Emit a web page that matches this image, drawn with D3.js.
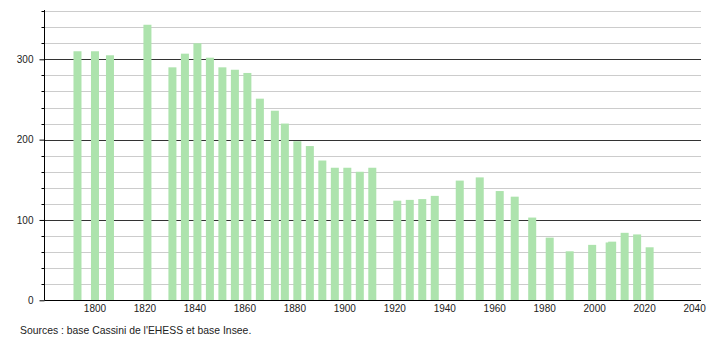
<!DOCTYPE html>
<html>
<head>
<meta charset="utf-8">
<script src="https://cdn.jsdelivr.net/npm/d3@7"></script>
<style>
  body { margin: 0; background: #fff; }
  svg { display: block; font-family: "Liberation Sans", Arial, sans-serif; }
</style>
</head>
<body>
<script>
'use strict';

// census years and population
const years = [1793, 1800, 1806, 1821, 1831, 1836, 1841, 1846, 1851, 1856,
  1861, 1866, 1872, 1876, 1881, 1886, 1891, 1896, 1901, 1906, 1911,
  1921, 1926, 1931, 1936, 1946, 1954, 1962, 1968, 1975, 1982, 1990,
  1999, 2006, 2007, 2012, 2017, 2022];
const population = [310, 310, 305, 343, 290, 307, 320, 302, 290, 287,
  283, 251, 236, 220, 198, 192, 174, 165, 165, 160, 165,
  124, 125, 126, 130, 149, 153, 136, 129, 103, 78, 61,
  69, 72, 73, 84, 82, 66];
const xTicks = [1800, 1820, 1840, 1860, 1880, 1900, 1920, 1940, 1960, 1980, 2000, 2020, 2040];
const yTicks = [0, 100, 200, 300];
const source = "Sources : base Cassini de l'EHESS et base Insee.";

const width = 710, height = 340;
const data = years.map((y, i) => ({ year: y, pop: population[i] }));

const svg = d3.select('body').append('svg')
  .attr('width', width)
  .attr('height', height);

// scales
const x = d3.scaleLinear().domain([1780, 2043.6]).range([45, 703.6]);
const y = d3.scaleLinear().domain([0, 360]).range([300.3, 11.1]);
const x0 = 44.5;
const xEnd = 701;

// gridlines every 20, darker every 100
const minor = d3.range(20, 361, 20);
svg.append('g')
  .selectAll('line')
  .data(minor)
  .join('line')
    .attr('x1', x0)
    .attr('x2', xEnd)
    .attr('y1', d => Math.round(y(d)) + 0.5)
    .attr('y2', d => Math.round(y(d)) + 0.5)
    .attr('stroke', d => d % 100 === 0 ? '#333' : '#cccccc')
    .attr('stroke-width', 1);

// bars
svg.append('g')
  .selectAll('rect')
  .data(data)
  .join('rect')
    .attr('x', d => x(d.year) - 4)
    .attr('y', d => y(d.pop))
    .attr('width', 8)
    .attr('height', d => y(0) - y(d.pop))
    .attr('fill', '#ade3ad');

// y axis: minor ticks
svg.append('g')
  .selectAll('line')
  .data(minor.filter(d => d % 100 !== 0))
  .join('line')
    .attr('x1', x0 - 3)
    .attr('x2', x0)
    .attr('y1', d => Math.round(y(d)) + 0.5)
    .attr('y2', d => Math.round(y(d)) + 0.5)
    .attr('stroke', '#000');

// y axis: major ticks and labels
const yAxis = d3.axisLeft(y).tickValues(yTicks).tickSize(5).tickPadding(6);
const gy = svg.append('g')
  .attr('transform', `translate(${x0},0)`)
  .call(yAxis);
gy.select('.domain').remove();
gy.selectAll('.tick line').attr('stroke', '#000');
gy.selectAll('.tick text')
  .attr('fill', '#222')
  .style('font-size', '10px')
  .style('font-family', '"Liberation Sans", Arial, sans-serif');

svg.append('line')
  .attr('x1', x0).attr('x2', x0)
  .attr('y1', 10).attr('y2', Math.round(y(0)) + 0.5)
  .attr('stroke', '#000');

// x axis
svg.append('line')
  .attr('x1', x0).attr('x2', xEnd)
  .attr('y1', Math.round(y(0)) + 0.5).attr('y2', Math.round(y(0)) + 0.5)
  .attr('stroke', '#000');

svg.append('g')
  .selectAll('text')
  .data(xTicks)
  .join('text')
    .attr('x', d => x(d))
    .attr('y', 312)
    .attr('text-anchor', 'middle')
    .attr('fill', '#222')
    .style('font-size', '10px')
    .text(d => d);

// source note
svg.append('text')
  .attr('x', 20)
  .attr('y', 334)
  .attr('fill', '#222')
  .style('font-size', '10.4px')
  .text(source);
</script>
</body>
</html>
